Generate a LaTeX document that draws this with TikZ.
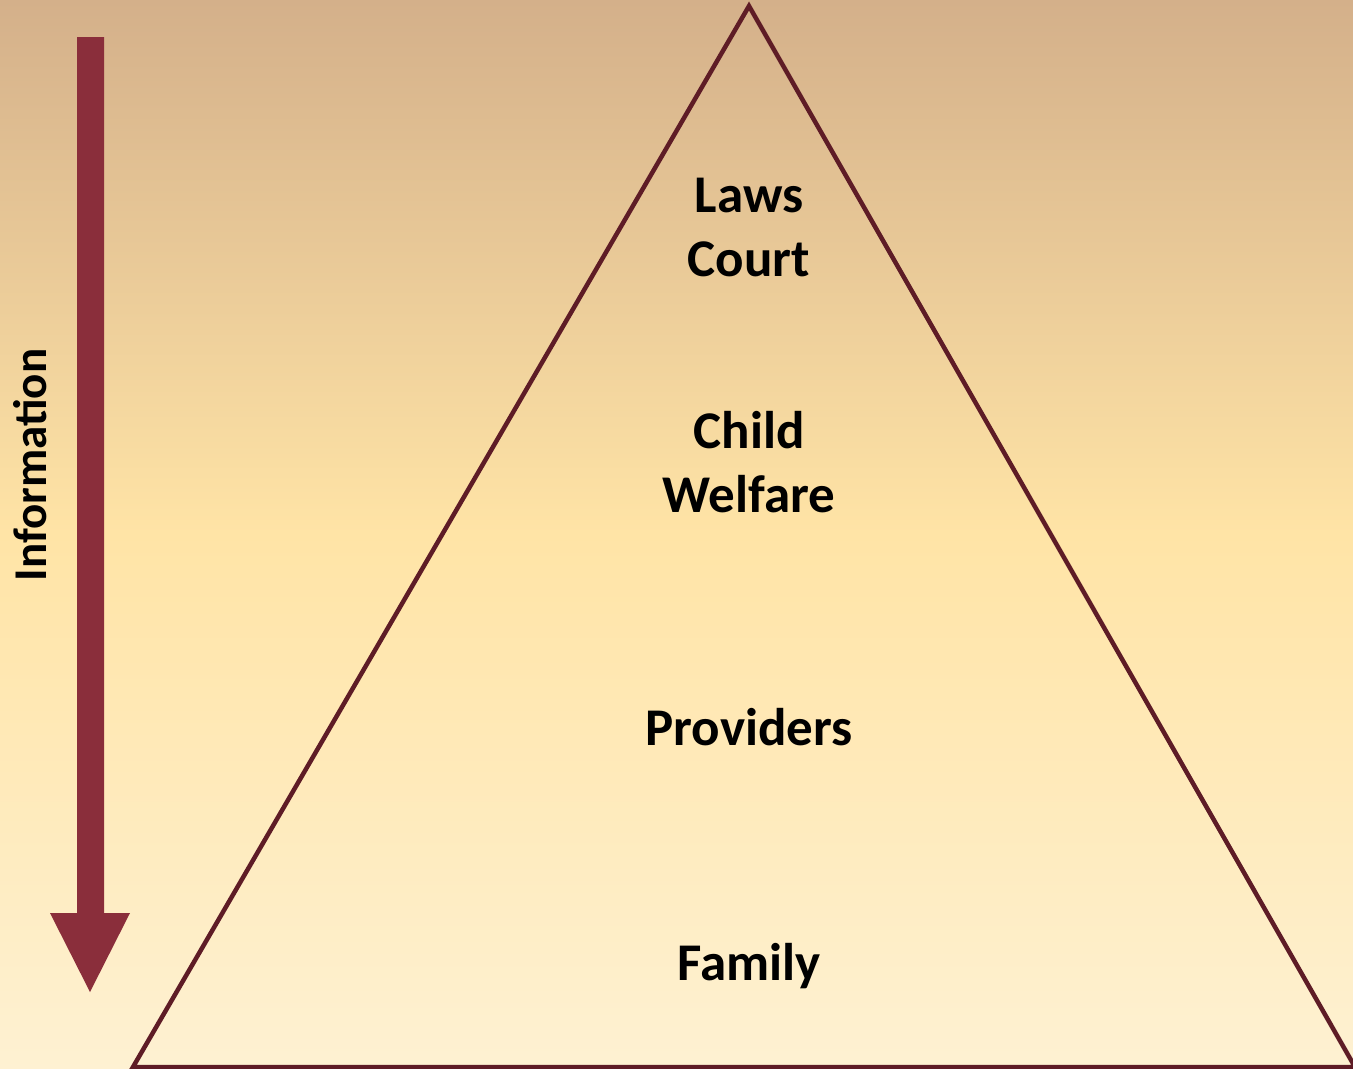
\documentclass[tikz,border=0pt]{standalone}
\usepackage{fontspec}
\setmainfont{Carlito}
\definecolor{bgtop}{HTML}{D4B08A}
\definecolor{bgmid}{HTML}{FFE4A6}
\definecolor{bgbot}{HTML}{FEF1D2}
\definecolor{arrowred}{HTML}{8A2E3B}
\definecolor{triline}{HTML}{5E1C26}
\pgfdeclareverticalshading{bgshade}{100bp}{color(0bp)=(bgbot); color(25bp)=(bgbot); color(50bp)=(bgmid); color(75bp)=(bgtop); color(100bp)=(bgtop)}
\tikzset{
  lbl/.style={font=\fontsize{53}{64}\selectfont\bfseries, text=black, inner sep=0pt, anchor=base},
  sidelbl/.style={font=\fontsize{47}{56}\selectfont\bfseries, text=black, inner sep=0pt, rotate=90},
  pyramid/.style={draw=triline, line width=4.5pt, line join=miter},
  infoarrow/.style={fill=arrowred}
}
\begin{document}
\begin{tikzpicture}[x=1pt,y=-1pt]
\useasboundingbox (0,0) rectangle (1353,1069);
\shade[shading=bgshade] (0,0) rectangle (1353,1069);
% pyramid
\coordinate (apex) at (749,6);
\coordinate (bl) at (133,1067);
\coordinate (br) at (1355,1067);
\draw[pyramid] (bl) -- (apex) -- (br) -- cycle;
% arrow
\fill[infoarrow] (77,37) -- (104,37) -- (104,913) -- (130,913) -- (90,992) -- (50,913) -- (77,913) -- cycle;
\node[sidelbl] (info) at (30,465) {Information};
% labels
\node[lbl] (laws) at (749,212) {Laws};
\node[lbl] (court) at (749,276) {Court};
\node[lbl] (child) at (749,448) {Child};
\node[lbl] (welfare) at (749,512) {Welfare};
\node[lbl] (providers) at (749,745) {Providers};
\node[lbl] (family) at (749,980) {Family};
\end{tikzpicture}
\end{document}
